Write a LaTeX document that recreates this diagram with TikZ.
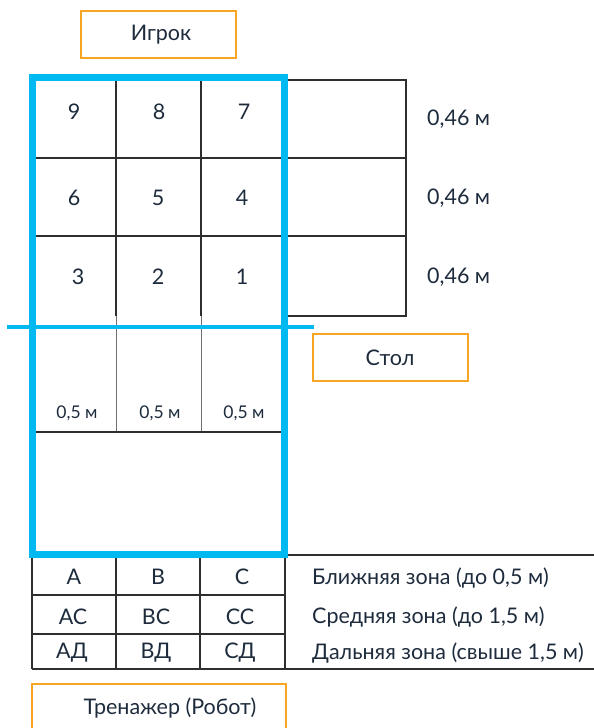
\documentclass[tikz,border=0pt]{standalone}
\usepackage{fontspec}
\setmainfont{Lato}
\definecolor{skyblue}{HTML}{00B9F1}
\definecolor{boxorange}{HTML}{F6A623}
\definecolor{txt}{HTML}{1D2B3C}
\definecolor{grid}{HTML}{2E2E2E}
\definecolor{gridlight}{HTML}{707070}
\tikzset{
  lbl/.style={text=txt, font=\fontsize{21.5}{24}\selectfont, inner sep=0pt},
  small/.style={text=txt, font=\fontsize{17.5}{20}\selectfont, inner sep=0pt},
  obox/.style={draw=boxorange, line width=1.3pt},
  gline/.style={draw=grid, line width=1.1pt},
  glight/.style={draw=gridlight, line width=1pt},
  blueline/.style={draw=skyblue, line width=7pt},
}
\begin{document}
\begin{tikzpicture}[x=1pt,y=-1pt]
\useasboundingbox (0,0) rectangle (594,728);
\clip (0,0) rectangle (594,728);
% orange boxes
\draw[obox] (81,11) rectangle (236,58);
\node[lbl] (igrok) at (161,35) {Игрок};
\draw[obox] (313,334) rectangle (468,381);
\node[lbl] (stol) at (390,358) {Стол};
\draw[obox] (32,684) rectangle (286,740);
\node[lbl] (robot) at (170,708) {Тренажер (Робот)};
% upper grid
\draw[gline] (284,80) -- (406,80) -- (406,316) -- (284,316);
\draw[gline] (33,158) -- (406,158);
\draw[gline] (33,236) -- (406,236);
\draw[gline] (116,80) -- (116,316);
\draw[gline] (201,80) -- (201,316);
\draw[glight] (116,316) -- (116,432);
\draw[glight] (201,316) -- (201,432);
\draw[gline] (33,432) -- (284,432);
% bottom table
\draw[gline] (32,555) -- (594,555);
\draw[gline] (32,669) -- (594,669);
\draw[gline] (32,555) -- (32,669);
\draw[gline] (116,555) -- (116,669);
\draw[gline] (200,555) -- (200,669);
\draw[gline] (285,555) -- (285,669);
\draw[gline] (32,595) -- (285,595);
\draw[gline] (32,634) -- (285,634);
% blue frame
\draw[blueline] (32.5,77) rectangle (284.5,554.5);
\draw[draw=skyblue, line width=3.5pt] (7,327) -- (314,327);
% numbers
\node[lbl] (n9) at (74,112) {9};
\node[lbl] (n8) at (159,112) {8};
\node[lbl] (n7) at (244,112) {7};
\node[lbl] (n6) at (74,198) {6};
\node[lbl] (n5) at (158,198) {5};
\node[lbl] (n4) at (242,198) {4};
\node[lbl] (n3) at (78,277) {3};
\node[lbl] (n2) at (158,277) {2};
\node[lbl] (n1) at (242,277) {1};
% right measures
\node[lbl, anchor=west] (m1) at (427,119) {0,46 м};
\node[lbl, anchor=west] (m2) at (427,198) {0,46 м};
\node[lbl, anchor=west] (m3) at (427,277) {0,46 м};
% lower measures
\node[small] (h1) at (77,413) {0,5 м};
\node[small] (h2) at (160,413) {0,5 м};
\node[small] (h3) at (244,413) {0,5 м};
% table letters
\node[lbl] (ta) at (74,577) {А};
\node[lbl] (tb) at (158,577) {В};
\node[lbl] (tc) at (242,577) {С};
\node[lbl] (tac) at (73,617) {АС};
\node[lbl] (tbc) at (156,617) {ВС};
\node[lbl] (tcc) at (240,617) {СС};
\node[lbl] (tad) at (72,653) {АД};
\node[lbl] (tbd) at (156,653) {ВД};
\node[lbl] (tcd) at (240,653) {СД};
% zone texts
\node[lbl, anchor=west] (z1) at (312,578) {Ближняя зона (до 0,5 м)};
\node[lbl, anchor=west] (z2) at (312,617) {Средняя зона (до 1,5 м)};
\node[lbl, anchor=west] (z3) at (312,653) {Дальняя зона (свыше 1,5 м)};
\end{tikzpicture}
\end{document}
